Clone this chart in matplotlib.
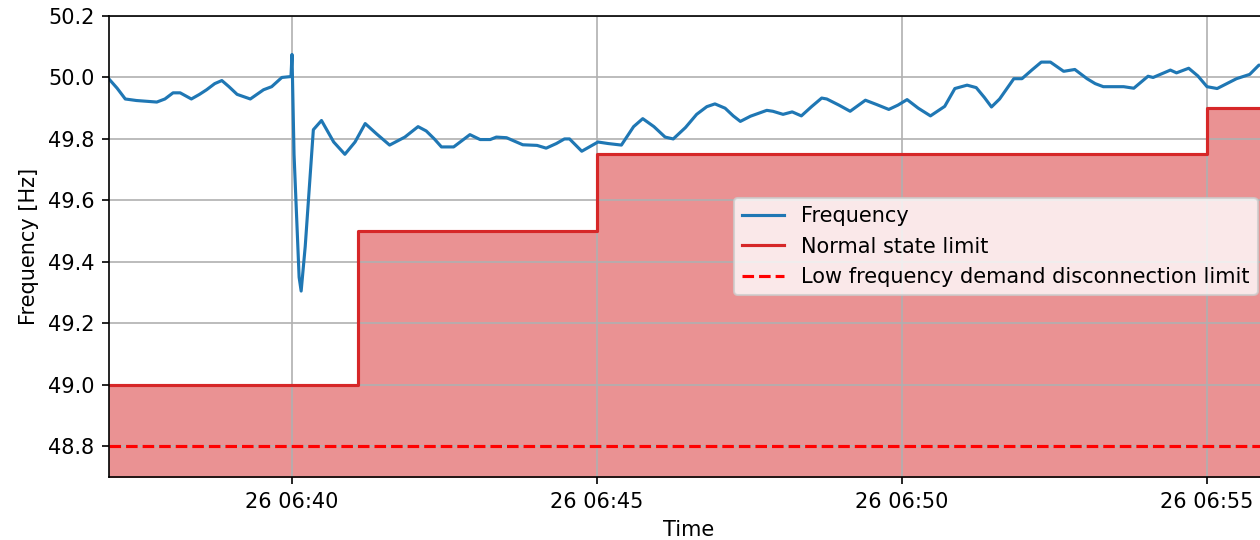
import matplotlib
matplotlib.use("Agg")
import matplotlib.pyplot as plt
import pandas as pd

day = "2024-01-26 "

freq_times = [
    "06:37:00", "06:37:08", "06:37:16", "06:37:27", "06:37:47", "06:37:55", "06:38:03",
    "06:38:10", "06:38:21", "06:38:29", "06:38:36", "06:38:44", "06:38:51", "06:38:58",
    "06:39:06", "06:39:19", "06:39:32", "06:39:40", "06:39:50",
    "06:39:59", "06:40:00", "06:40:02", "06:40:07", "06:40:09", "06:40:13", "06:40:21",
    "06:40:29", "06:40:35", "06:40:41", "06:40:52", "06:41:02", "06:41:12", "06:41:23",
    "06:41:36", "06:41:51",
    "06:42:04", "06:42:12", "06:42:20", "06:42:27", "06:42:39", "06:42:55", "06:43:05",
    "06:43:15", "06:43:21", "06:43:31", "06:43:47", "06:44:01", "06:44:10", "06:44:20",
    "06:44:28", "06:44:33", "06:44:45", "06:45:01", "06:45:11", "06:45:24", "06:45:30",
    "06:45:36", "06:45:45", "06:45:56", "06:46:07", "06:46:15", "06:46:27", "06:46:38",
    "06:46:48", "06:46:56", "06:47:06", "06:47:14", "06:47:21", "06:47:31", "06:47:47",
    "06:47:53", "06:48:03", "06:48:12", "06:48:21", "06:48:31", "06:48:41", "06:48:46",
    "06:48:58", "06:49:09", "06:49:24", "06:49:35", "06:49:47", "06:49:56", "06:50:05",
    "06:50:16", "06:50:28", "06:50:42", "06:50:52", "06:51:04", "06:51:13", "06:51:21",
    "06:51:28", "06:51:36", "06:51:50", "06:51:58", "06:52:08", "06:52:17", "06:52:26",
    "06:52:39", "06:52:50", "06:53:02", "06:53:10", "06:53:18", "06:53:38", "06:53:48",
    "06:54:02", "06:54:07", "06:54:24", "06:54:30", "06:54:42", "06:54:51", "06:55:00",
    "06:55:10", "06:55:29", "06:55:42", "06:55:51", "06:56:00",
]
freq_values = [
    49.995, 49.965, 49.93, 49.925, 49.92, 49.93, 49.95,
    49.95, 49.93, 49.945, 49.96, 49.98, 49.99, 49.97,
    49.945, 49.93, 49.96, 49.97, 50.0,
    50.003, 50.075, 49.75, 49.35, 49.305, 49.45, 49.83,
    49.86, 49.825, 49.79, 49.75, 49.79, 49.85, 49.817,
    49.78, 49.806,
    49.84, 49.826, 49.80, 49.774, 49.774, 49.814, 49.798,
    49.798, 49.806, 49.804, 49.781, 49.779, 49.77, 49.785,
    49.80, 49.80, 49.76, 49.79, 49.785, 49.78, 49.81,
    49.84, 49.866, 49.84, 49.806, 49.80, 49.837, 49.88,
    49.905, 49.914, 49.90, 49.875, 49.857, 49.874, 49.893,
    49.89, 49.88, 49.888, 49.875, 49.905, 49.933, 49.93,
    49.91, 49.89, 49.926, 49.912, 49.896, 49.91, 49.928,
    49.90, 49.875, 49.906, 49.964, 49.975, 49.967, 49.935,
    49.904, 49.93, 49.996, 49.996, 50.025, 50.05, 50.05,
    50.02, 50.026, 49.996, 49.98, 49.97, 49.97, 49.965,
    50.004, 50.0, 50.024, 50.015, 50.03, 50.005, 49.97,
    49.964, 49.996, 50.01, 50.04, 50.04,
]

limit_times = ["06:37:00", "06:41:05", "06:45:00", "06:55:00", "06:56:00"]
limit_values = [49.0, 49.5, 49.75, 49.9, 49.9]

lfdd_limit = 48.8

t_freq = pd.to_datetime([day + t for t in freq_times])
t_limit = pd.to_datetime([day + t for t in limit_times])

fig = plt.figure(figsize=(8.4, 3.6), dpi=150)
ax = fig.add_axes([109 / 1260, 63 / 540, 1159 / 1260, 461 / 540])

ax.plot(t_freq, freq_values, color="tab:blue", label="Frequency")
ax.step(t_limit, limit_values, where="post", color="tab:red", label="Normal state limit")
ax.fill_between(t_limit, 48.6, limit_values, step="post", color="tab:red", alpha=0.5, linewidth=0)
ax.axhline(lfdd_limit, color="red", linestyle="--", label="Low frequency demand disconnection limit")

ax.set_xlim(t_limit[0], t_limit[-1])
ax.set_ylim(48.7, 50.2)
ax.set_xlabel("Time")
ax.set_ylabel("Frequency [Hz]")
ax.grid(True)
ax.legend(loc="center right")

fig.savefig("out.png", dpi=150)
